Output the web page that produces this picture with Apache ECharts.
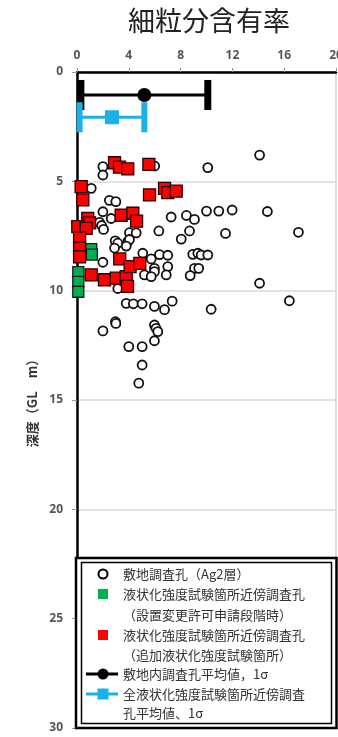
<!DOCTYPE html>
<html><head><meta charset="utf-8">
<script src="https://cdn.jsdelivr.net/npm/echarts@6/dist/echarts.min.js"></script>
<style>html,body{margin:0;padding:0;background:#fff;overflow:hidden}#c{width:338px;height:737px}</style>
</head><body><div id="c"></div>
<script>
// ---- data ----
const chartTitle = '細粒分含有率';
const yAxisName = '深度（GL　m）';
const seriesNames = [
  '敷地調査孔（Ag2層）',
  '液状化強度試験箇所近傍調査孔（設置変更許可申請段階時）',
  '液状化強度試験箇所近傍調査孔（追加液状化強度試験箇所）',
  '敷地内調査孔平均値，1σ',
  '全液状化強度試験箇所近傍調査孔平均値、1σ'
];
// [fines content %, depth GL-m]
const siteHoles = [
  [14.1,3.8],[10.1,4.37],[6.0,4.3],[2.0,4.33],[2.0,4.71],[1.1,5.32],[2.5,5.87],[3.0,5.93],
  [2.0,6.39],[2.64,6.7],[1.74,6.88],[1.9,7.02],[2.05,7.2],[7.27,6.63],[8.45,6.56],[9.07,6.74],
  [10.0,6.36],[10.95,6.36],[11.98,6.31],[14.7,6.38],[17.1,7.33],[6.32,7.27],[8.69,7.27],[8.05,7.64],
  [11.47,7.38],[4.05,7.35],[4.57,7.36],[2.95,7.72],[3.15,7.83],[3.92,7.76],[4.05,7.66],[2.9,8.05],
  [3.8,7.96],[2.0,8.7],[5.08,8.29],[5.73,8.55],[6.37,8.35],[7.01,8.38],[7.01,8.9],[5.98,8.98],
  [5.98,9.13],[5.21,9.28],[5.73,9.36],[8.94,8.34],[9.33,8.29],[9.59,8.37],[10.1,8.37],[9.07,8.98],
  [9.4,8.98],[8.74,9.31],[6.89,9.28],[14.1,9.66],[16.4,10.46],[3.8,10.58],[4.35,10.6],[5.03,10.6],
  [5.98,10.72],[6.76,10.87],[7.35,10.48],[10.36,10.85],[2.0,11.84],[2.97,11.42],[3.0,11.5],[5.98,11.57],
  [6.1,11.72],[6.24,11.87],[5.98,12.29],[4.0,12.56],[5.03,12.56],[5.03,13.4],[4.77,14.23],[3.15,9.9]
];
const greenHoles = [[1.1,8.1],[1.15,8.35],[0.1,9.15],[0.1,9.6],[0.1,10.05]];
const redHoles = [
  [2.9,4.15],[3.28,4.35],[3.92,4.43],[5.55,4.22],[0.32,5.24],[0.45,5.85],[5.6,5.62],[6.76,5.32],
  [7.01,5.52],[7.66,5.45],[3.41,6.55],[4.31,6.46],[4.6,6.82],[0.83,6.69],[0.97,6.9],[0.06,7.07],
  [0.71,7.15],[0.2,7.6],[0.2,8.05],[0.2,8.45],[1.1,9.28],[2.12,9.5],[3.03,9.43],[3.8,9.36],
  [3.9,9.8],[3.3,8.55],[4.1,8.9],[4.85,8.75]
];
// mean values with 1 sigma
const siteMean = [5.2, 1.05];
const siteSigma = 4.9;
const allMean = [2.7, 2.07];
const allSigma = 2.5;
const xTicks = {min: 0, max: 20, interval: 4};
const yTicks = {min: 0, max: 30, interval: 5};

// ---- chart ----
const chart = echarts.init(document.getElementById('c'));
const labelFont = {color: '#555', fontSize: 12, fontWeight: 'bold', fontFamily: 'Open Sans, Liberation Sans, sans-serif'};
const cjk = '"Noto Sans CJK JP", sans-serif';

function errorBar(color, lw, capW, capH) {
  return function (params, api) {
    const m = api.value(0), d = api.value(1), s = api.value(2);
    const a = api.coord([m - s, d]);
    const b = api.coord([m + s, d]);
    return {type: 'group', children: [
      {type: 'line', shape: {x1: a[0], y1: a[1], x2: b[0], y2: b[1]}, style: {stroke: color, lineWidth: lw}},
      {type: 'rect', shape: {x: a[0] - capW / 2, y: a[1] - capH / 2, width: capW, height: capH}, style: {fill: color}},
      {type: 'rect', shape: {x: b[0] - capW / 2, y: b[1] - capH / 2, width: capW, height: capH}, style: {fill: color}}
    ]};
  };
}

const LX = 103, TX = 123;
const legendRows = [574, 594, 615, 635, 655, 674, 694, 713];
const legendTexts = [
  '敷地調査孔（Ag2層）',
  '液状化強度試験箇所近傍調査孔',
  '（設置変更許可申請段階時）',
  '液状化強度試験箇所近傍調査孔',
  '（追加液状化強度試験箇所）',
  '敷地内調査孔平均値，1σ',
  '全液状化強度試験箇所近傍調査',
  '孔平均値、1σ'
];
const graphics = [
  {type: 'rect', shape: {x: 76, y: 558, width: 260.5, height: 170}, style: {fill: '#fff', stroke: '#000', lineWidth: 2.5}, z: 10},
  {type: 'rect', shape: {x: 81.5, y: 562.5, width: 250, height: 161}, style: {fill: 'none', stroke: '#000', lineWidth: 1.5}, z: 10},
  {type: 'circle', shape: {cx: LX, cy: legendRows[0], r: 4.5}, style: {fill: '#fff', stroke: '#000', lineWidth: 2}, z: 11},
  {type: 'rect', shape: {x: LX - 5, y: legendRows[1] - 5, width: 10, height: 10}, style: {fill: '#00b050'}, z: 11},
  {type: 'rect', shape: {x: LX - 5, y: legendRows[3] - 5, width: 10, height: 10}, style: {fill: '#ff0000'}, z: 11},
  {type: 'line', shape: {x1: 86, y1: legendRows[5], x2: 118, y2: legendRows[5]}, style: {stroke: '#000', lineWidth: 3}, z: 11},
  {type: 'circle', shape: {cx: LX, cy: legendRows[5], r: 5.5}, style: {fill: '#000'}, z: 11},
  {type: 'line', shape: {x1: 86, y1: legendRows[6], x2: 118, y2: legendRows[6]}, style: {stroke: '#1ab0e8', lineWidth: 3}, z: 11},
  {type: 'rect', shape: {x: LX - 5.5, y: legendRows[6] - 5.5, width: 11, height: 11}, style: {fill: '#1ab0e8'}, z: 11}
];
legendTexts.forEach(function (t, i) {
  graphics.push({type: 'text', x: TX, y: legendRows[i], style: {text: t, fill: '#333', font: '13px ' + cjk, textVerticalAlign: 'middle'}, z: 11});
});

chart.setOption({
  animation: false,
  title: {text: chartTitle, left: 204, top: 2, textAlign: 'center',
    textStyle: {fontSize: 27, fontWeight: 'normal', color: '#222', fontFamily: cjk}},
  grid: {left: 77, right: 2, top: 72, bottom: 9, show: true, borderColor: '#bbb', borderWidth: 1,
    containLabel: false, outerBoundsMode: 'none'},
  xAxis: {type: 'value', position: 'top', min: xTicks.min, max: xTicks.max, interval: xTicks.interval,
    axisLine: {lineStyle: {color: '#000', width: 2.5}},
    axisTick: {show: true, length: 4, lineStyle: {color: '#999'}},
    axisLabel: Object.assign({margin: 10}, labelFont),
    splitLine: {show: false}},
  yAxis: {type: 'value', inverse: true, min: yTicks.min, max: yTicks.max, interval: yTicks.interval,
    name: yAxisName, nameLocation: 'middle', nameGap: 38, nameRotate: 90,
    nameTextStyle: {fontSize: 13, color: '#333', fontWeight: 'bold', fontFamily: cjk},
    axisLine: {lineStyle: {color: '#000', width: 2.5}},
    axisTick: {show: true, length: 5, lineStyle: {color: '#999'}},
    axisLabel: Object.assign({margin: 14}, labelFont),
    splitLine: {show: true, lineStyle: {color: '#d9d9d9', width: 1.5}}},
  series: [
    {name: seriesNames[0], type: 'scatter', data: siteHoles, symbol: 'circle', symbolSize: 9,
      itemStyle: {color: '#fff', borderColor: '#111', borderWidth: 1.8, opacity: 1}, z: 3},
    {name: seriesNames[1], type: 'scatter', data: greenHoles, symbol: 'rect', symbolSize: 11,
      itemStyle: {color: '#00b050', borderColor: '#1a1a1a', borderWidth: 1.3, opacity: 1}, z: 4},
    {name: seriesNames[2], type: 'scatter', data: redHoles, symbol: 'rect', symbolSize: 12,
      itemStyle: {color: '#ff0000', borderColor: '#2a0000', borderWidth: 1.3, opacity: 1}, z: 5},
    {name: seriesNames[3], type: 'custom', renderItem: errorBar('#000', 3, 7, 30),
      data: [[siteMean[0], siteMean[1], siteSigma]], z: 6},
    {name: seriesNames[3], type: 'scatter', data: [siteMean], symbol: 'circle', symbolSize: 14,
      itemStyle: {color: '#000', opacity: 1}, z: 7},
    {name: seriesNames[4], type: 'custom', renderItem: errorBar('#1ab0e8', 3, 6, 30),
      data: [[allMean[0], allMean[1], allSigma]], z: 6},
    {name: seriesNames[4], type: 'scatter', data: [allMean], symbol: 'rect', symbolSize: 14,
      itemStyle: {color: '#1ab0e8', opacity: 1}, z: 7}
  ],
  graphic: graphics
});
</script></body></html>
